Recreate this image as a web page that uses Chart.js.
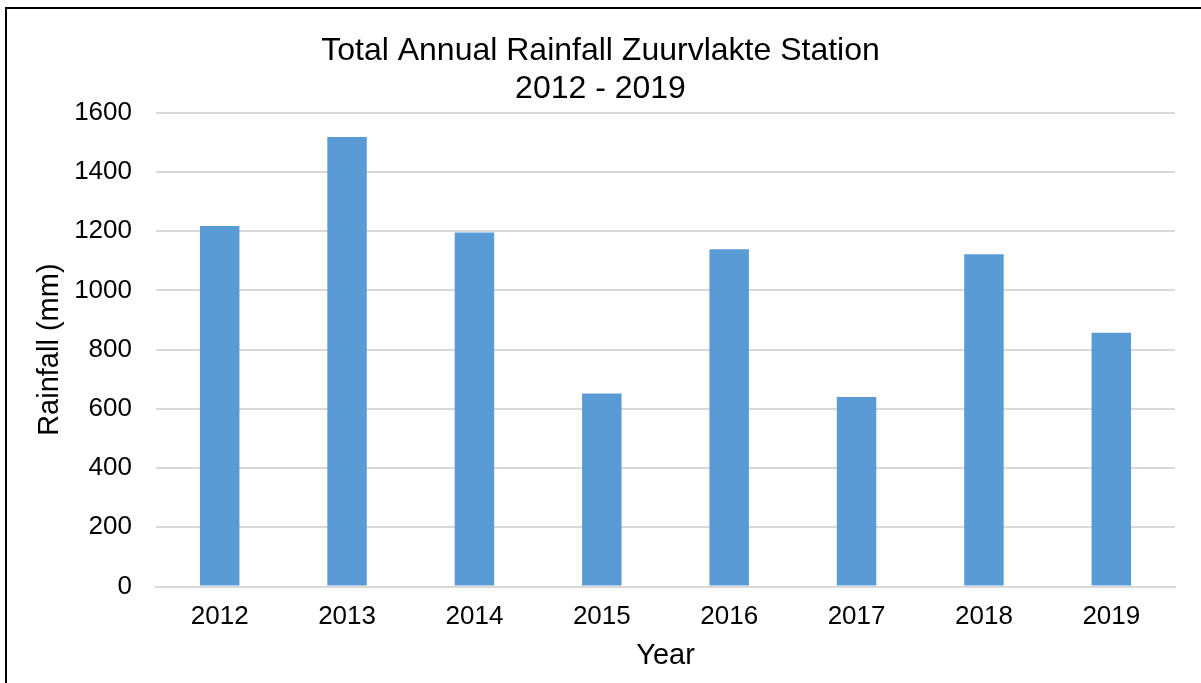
<!DOCTYPE html>
<html>
<head>
<meta charset="utf-8">
<script src="https://cdn.jsdelivr.net/npm/chart.js@4.4.1/dist/chart.umd.min.js"></script>
<style>
  html, body { margin: 0; padding: 0; background: #fff; overflow: hidden; }
  #wrap { position: relative; width: 1201px; height: 683px; overflow: hidden; }
  #frame { position: absolute; left: 5px; top: 7px; width: 1400px; height: 900px; border-left: 2px solid #000; border-top: 2px solid #000; box-sizing: border-box; pointer-events: none; }
  canvas { position: absolute; left: 0; top: 0; }
</style>
</head>
<body>
<div id="wrap">
  <canvas id="c" width="1201" height="683"></canvas>
  <div id="frame"></div>
</div>
<script>
const years = ['2012', '2013', '2014', '2015', '2016', '2017', '2018', '2019'];
const rainfall = [1218, 1518, 1196, 652, 1139, 640, 1122, 857];
const titleLines = ['Total Annual Rainfall Zuurvlakte Station', '2012 - 2019'];
const yTicks = [0, 200, 400, 600, 800, 1000, 1200, 1400, 1600];

const FONT = "'Liberation Sans', Arial, sans-serif";

new Chart(document.getElementById('c'), {
  type: 'bar',
  data: {
    labels: years,
    datasets: [{
      label: 'Rainfall (mm)',
      data: rainfall,
      backgroundColor: '#5B9BD5',
      borderWidth: 0,
      categoryPercentage: 1.0,
      barPercentage: 0.31
    }]
  },
  options: {
    responsive: false,
    animation: false,
    devicePixelRatio: 1,
    layout: { padding: { left: 26, right: 26, top: 0, bottom: 10 } },
    plugins: {
      legend: { display: false },
      tooltip: { enabled: false },
      title: {
        display: true,
        text: titleLines,
        color: '#000',
        font: { family: FONT, size: 32, weight: 'normal', lineHeight: 1.2 },
        padding: { top: 32, bottom: 4 }
      }
    },
    scales: {
      x: {
        grid: { display: false, drawTicks: false },
        border: { display: true, color: '#d9d9d9', width: 2 },
        ticks: { color: '#000', font: { family: FONT, size: 26 }, padding: 15, maxRotation: 0 },
        title: { display: true, text: 'Year', color: '#000', font: { family: FONT, size: 29 }, padding: { top: -9.5, bottom: 0 } }
      },
      y: {
        min: 0, max: 1600,
        afterBuildTicks: (s) => { s.ticks = yTicks.map(v => ({ value: v })); },
        afterFit: (s) => { s.width = 130; },
        grid: { color: '#d9d9d9', lineWidth: 2, drawTicks: false },
        border: { display: false },
        ticks: { color: '#000', font: { family: FONT, size: 26 }, padding: 24, callback: (v) => String(v) },
        title: { display: true, text: 'Rainfall (mm)', color: '#000', font: { family: FONT, size: 29 }, padding: { top: 7, bottom: 0 } }
      }
    }
  }
});
</script>
</body>
</html>
